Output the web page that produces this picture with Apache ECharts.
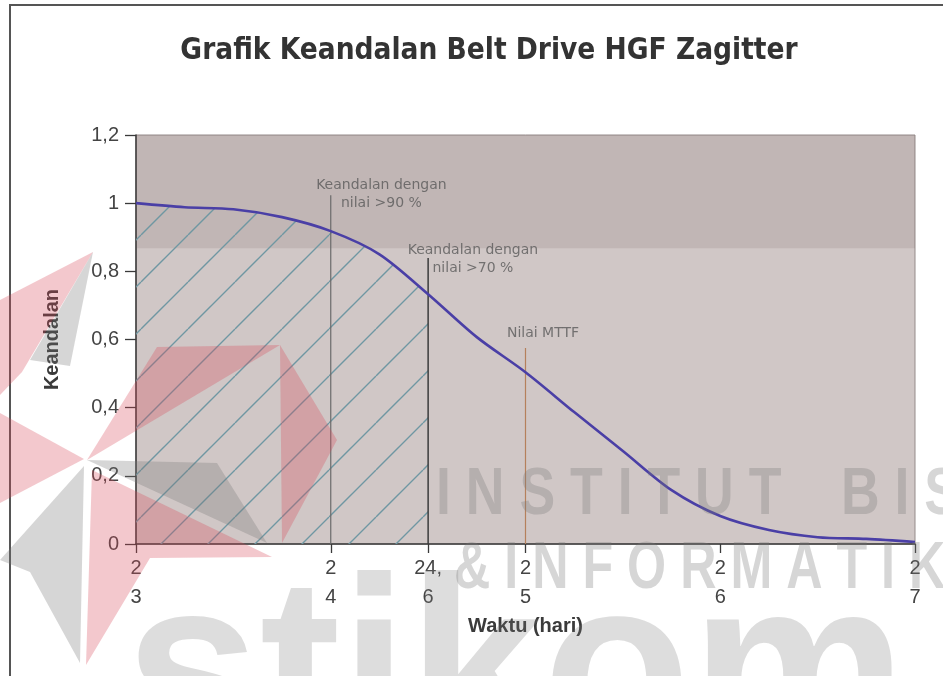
<!DOCTYPE html>
<html>
<head>
<meta charset="utf-8">
<script src="https://cdn.jsdelivr.net/npm/echarts@6/dist/echarts.min.js"></script>
<style>
  html, body { margin: 0; padding: 0; background: #fff; }
  #chart { width: 943px; height: 676px; }
</style>
</head>
<body>
<div id="chart"></div>
<script>
// waktu (hari) dan keandalan R(t)
var timeDays    = [23, 23.25, 23.5, 23.75, 24, 24.25, 24.5, 24.75, 25, 25.25, 25.5, 25.75, 26, 26.25, 26.5, 26.75, 27];
var reliability = [1.0, 0.988, 0.982, 0.959, 0.918, 0.85, 0.733, 0.607, 0.504, 0.387, 0.273, 0.158, 0.082, 0.041, 0.02, 0.015, 0.006];

// batas area arsir (sampai garis 24,6)
var hatchEnd = 24.5;

// garis vertikal penanda
var markerX     = [24, 24.5, 25];
var markerTop   = [1.023, 0.839, 0.575];
var markerColor = ['#6a6a6a', '#3c3c3c', '#b5805c'];

// label penanda
var noteX    = [24.26, 24.73, 25.09];
var noteY    = [1.026, 0.836, 0.619];
var noteText = ['Keandalan dengan\nnilai >90 %', 'Keandalan dengan\nnilai >70 %', 'Nilai MTTF'];

// label sumbu x
var xTickValues = [23, 24, 24.5, 25, 26, 27];
var xTickLabels = ['2\n3', '2\n4', '24,\n6', '2\n5', '2\n6', '2\n7'];

var FONT = '"Liberation Sans", Arial, sans-serif';

// pola arsir diagonal
function hatchPattern(){
	var s = 47;
	var c = document.createElement('canvas');
	c.width = s; c.height = s;
	var g = c.getContext('2d');
	g.strokeStyle = '#6f97a2';
	g.lineWidth = 1.4;
	g.beginPath();
	for(var k=-1;k<=1;k++){
		g.moveTo(k*s, s); g.lineTo(k*s+s, 0);
	}
	g.stroke();
	return c;
}

var curve = [], hatch = [];
for(var i=0;i<timeDays.length;i++){
	curve.push([timeDays[i], reliability[i]]);
	if(timeDays[i] <= hatchEnd) hatch.push([timeDays[i], reliability[i]]);
}

var series = [];
// area arsir
series.push({
	type:'line', data:hatch, smooth:0.3, symbol:'none', silent:true, z:2,
	lineStyle:{width:0},
	areaStyle:{color:{image:hatchPattern(), repeat:'repeat'}, opacity:1},
	markArea:{
		silent:true,
		itemStyle:{color:'rgba(95,70,70,0.13)'},
		data:[[{yAxis:0.868},{yAxis:1.2}]]
	}
});
// garis penanda vertikal
for(var j=0;j<markerX.length;j++){
	series.push({
		type:'line', symbol:'none', silent:true, z:3,
		data:[[markerX[j],0],[markerX[j],markerTop[j]]],
		lineStyle:{color:markerColor[j], width:j==1?1.5:1.2}
	});
}
// kurva keandalan
series.push({
	type:'line', data:curve, smooth:0.3, symbol:'none', z:5,
	lineStyle:{color:'#4a3fa6', width:2.6}
});
// teks penanda
var notes = [];
for(var n=0;n<noteX.length;n++) notes.push([noteX[n], noteY[n]]);
series.push({
	type:'scatter', data:notes, symbolSize:0, silent:true, z:6,
	label:{
		show:true, position:'inside', color:'#5a5a5a',
		fontFamily:'"DejaVu Sans", sans-serif', fontSize:14, lineHeight:18, align:'center',
		formatter:function(p){ return noteText[p.dataIndex]; }
	}
});

// watermark (logo + tulisan) di atas grafik
var RED = 'rgba(214,72,88,0.30)', GRAY = 'rgba(120,120,120,0.30)';
function poly(pts, fill){
	return {type:'polygon', silent:true, z:100, shape:{points:pts}, style:{fill:fill}};
}
var watermark = [
	poly([[87,460],[157,347],[280,345]], RED),
	poly([[280,345],[337,440],[282,543]], RED),
	poly([[92,470],[272,557],[150,558],[86,665]], RED),
	poly([[0,413],[84,459],[0,503]], RED),
	poly([[93,252],[0,300],[0,395],[22,372]], RED),
	poly([[87,460],[217,463],[267,543]], GRAY),
	poly([[93,252],[30,360],[70,366]], GRAY),
	poly([[84,466],[0,560],[30,572],[80,663]], GRAY),
	{type:'text', silent:true, z:100, x:436, y:496, scaleX:0.8,
		style:{text:'I N S T I T U T    B I S N I S', fill:GRAY, font:'bold 67px "Liberation Sans", sans-serif', verticalAlign:'middle'}},
	{type:'text', silent:true, z:100, x:454, y:570, scaleX:0.75,
		style:{text:'& I N F O R M A T I K A', fill:GRAY, font:'bold 67px "Liberation Sans", sans-serif', verticalAlign:'middle'}},
	{type:'text', silent:true, z:100, x:125, y:808, scaleX:0.97,
		style:{text:'stikom', fill:'rgba(120,120,120,0.25)', font:'bold 250px "Liberation Sans", sans-serif', verticalAlign:'bottom'}}
];

var chart = echarts.init(document.getElementById('chart'));
chart.setOption({
	backgroundColor:'#fff',
	animation:false,
	title:{
		text:'Grafik Keandalan Belt Drive HGF Zagitter',
		left:484, top:31, textAlign:'center',
		textStyle:{fontFamily:'"Liberation Sans Narrow", "DejaVu Sans Condensed", Arial, sans-serif', fontWeight:'bold', fontSize:29.5, color:'#333'}
	},
	grid:{
		left:136, right:28, top:135, bottom:132,
		show:true, backgroundColor:'#d0c7c6', borderColor:'#958b8a', borderWidth:1
	},
	xAxis:{
		type:'value', min:23, max:27, interval:1,
		name:'Waktu (hari)', nameLocation:'middle', nameGap:65,
		nameTextStyle:{fontFamily:FONT, fontSize:20, fontWeight:'bold', color:'#3a3a3a'},
		axisLine:{lineStyle:{color:'#3a3a3a', width:1.5}},
		axisTick:{show:true, length:9, customValues:xTickValues, lineStyle:{color:'#3a3a3a', width:1.3}},
		axisLabel:{
			customValues:xTickValues, margin:10,
			fontFamily:FONT, fontSize:20, lineHeight:29, color:'#444',
			formatter:function(v){
				var k = xTickValues.indexOf(v);
				return k<0 ? '' : xTickLabels[k];
			}
		},
		splitLine:{show:false}
	},
	yAxis:{
		type:'value', min:0, max:1.2, interval:0.2,
		name:'Keandalan', nameLocation:'middle', nameGap:74, nameRotate:90,
		nameTextStyle:{fontFamily:FONT, fontSize:20, fontWeight:'bold', color:'#3a3a3a'},
		axisLine:{show:true, lineStyle:{color:'#3a3a3a', width:1.5}},
		axisTick:{show:true, length:11, lineStyle:{color:'#3a3a3a', width:1.3}},
		axisLabel:{
			margin:17, fontFamily:FONT, fontSize:20, color:'#444',
			formatter:function(v){ return String(+v.toFixed(1)).replace('.', ','); }
		},
		splitLine:{show:false}
	},
	graphic:[{
		type:'rect', silent:true, z:-1,
		shape:{x:10, y:5, width:1000, height:800},
		style:{fill:null, stroke:'#555', lineWidth:2}
	}].concat(watermark),
	series:series
});
</script>
</body>
</html>
